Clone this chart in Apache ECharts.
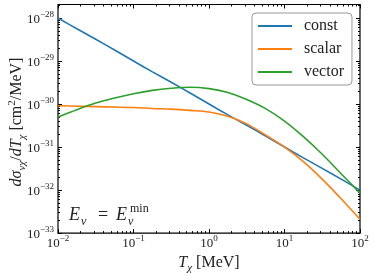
<!DOCTYPE html>
<html><head><meta charset="utf-8">
<script src="https://cdn.jsdelivr.net/npm/echarts@6/dist/echarts.min.js"></script>
<style>html,body{margin:0;padding:0;background:#fff}#c{width:374px;height:279px}</style>
</head><body><div id="c"></div>
<script>
// T_chi [MeV]
const tChi = [0.01, 0.0178, 0.0316, 0.0562, 0.1, 0.178, 0.316, 0.562, 1, 1.78, 3.16, 5.62, 10, 17.8, 31.6, 56.2, 100];
// dsigma/dT [cm^2/MeV]
const constVals  = [1e-28, 5.6e-29, 3.2e-29, 1.8e-29, 1e-29, 5.6e-30, 3.2e-30, 1.8e-30, 1e-30, 5.6e-31, 3.2e-31, 1.8e-31, 1e-31, 5.6e-32, 3.2e-32, 1.8e-32, 1e-32];
const scalarVals = [9.1e-31, 8.9e-31, 8.7e-31, 8.5e-31, 8.3e-31, 7.9e-31, 7.6e-31, 7.1e-31, 6.5e-31, 5.2e-31, 3.45e-31, 1.9e-31, 1.0e-31, 4.6e-32, 1.8e-32, 6.3e-33, 2.1e-33];
const vectorVals = [5.0e-31, 7.4e-31, 1.05e-30, 1.38e-30, 1.74e-30, 2.08e-30, 2.32e-30, 2.45e-30, 2.28e-30, 1.86e-30, 1.27e-30, 7.8e-31, 4.0e-31, 1.74e-31, 6.8e-32, 2.4e-32, 8.5e-33];
const seriesNames = ['const', 'scalar', 'vector'];
const colors = ['#1f77b4', '#ff7f0e', '#2ca02c'];
// tick exponents (log10)
const xMajorExp = [-2, -1, 0, 1, 2];
const yMajorExp = [-33, -32, -31, -30, -29, -28];
const xRange = [-2, 2];
const yRange = [-33, -27.687];

function minorTicks(lo, hi) {
  const out = [];
  for (let n = Math.floor(lo); n < hi; n++) {
    for (let k = 2; k <= 9; k++) {
      const v = n + Math.log10(k);
      if (v > lo && v < hi) out.push(v);
    }
  }
  return out;
}
const xMinor = minorTicks(xRange[0], xRange[1]);
const yMinor = minorTicks(yRange[0], yRange[1]);

const FONT = 'Liberation Serif';
const TXT = '#222';
const labelRich = {
  b: {fontSize: 13, fontFamily: FONT, color: TXT, verticalAlign: 'bottom'},
  s: {fontSize: 9, fontFamily: FONT, color: TXT, verticalAlign: 'bottom', padding: [0, 0, 7, 0]}
};
function expFmt(v) {
  const e = Math.round(v);
  return '{b|10}{s|' + (e < 0 ? '\u2212' + (-e) : e) + '}';
}

function mkX(pos, ticks, len, labels) {
  return {
    type: 'value', min: xRange[0], max: xRange[1], position: pos,
    axisLine: {show: false, onZero: false}, splitLine: {show: false},
    axisTick: {show: true, inside: true, length: len, customValues: ticks, lineStyle: {color: '#000', width: 1}},
    axisLabel: labels ? {show: true, customValues: ticks, formatter: expFmt, rich: labelRich, margin: 1} : {show: false}
  };
}
function mkY(pos, ticks, len, labels) {
  return {
    type: 'value', min: yRange[0], max: yRange[1], position: pos,
    axisLine: {show: false, onZero: false}, splitLine: {show: false},
    axisTick: {show: true, inside: true, length: len, customValues: ticks, lineStyle: {color: '#000', width: 1}},
    axisLabel: labels ? {show: true, customValues: ticks, formatter: expFmt, rich: labelRich, margin: 4} : {show: false}
  };
}

const xAxes = [mkX('bottom', xMajorExp, 4, true), mkX('bottom', xMinor, 2, false), mkX('top', xMajorExp, 4, false), mkX('top', xMinor, 2, false)];
const yAxes = [mkY('left', yMajorExp, 4, true), mkY('left', yMinor, 2, false), mkY('right', yMajorExp, 4, false), mkY('right', yMinor, 2, false)];

function nameRich(fs) {
  const ss = Math.round(fs * 0.68);
  return {
    i: {fontSize: fs, fontFamily: FONT, fontStyle: 'italic', fill: TXT, color: TXT, verticalAlign: 'bottom', padding: [0, 0, 3, 0]},
    r: {fontSize: fs, fontFamily: FONT, fill: TXT, color: TXT, verticalAlign: 'bottom', padding: [0, 0, 3, 0]},
    sub: {fontSize: ss, fontFamily: FONT, fontStyle: 'italic', fill: TXT, color: TXT, verticalAlign: 'bottom'},
    sup: {fontSize: ss, fontFamily: FONT, fill: TXT, color: TXT, verticalAlign: 'bottom', padding: [0, 0, Math.round(fs * 0.6), 0]}
  };
}
xAxes[0].name = '{i|T}{sub|\u03C7}{r| [MeV]}';
xAxes[0].nameLocation = 'middle';
xAxes[0].nameGap = 16;
xAxes[0].nameTextStyle = {rich: nameRich(16)};

const valsList = [constVals, scalarVals, vectorVals];
const series = seriesNames.map((n, i) => ({
  name: n, type: 'line', xAxisIndex: 0, yAxisIndex: 0,
  data: tChi.map((t, j) => [Math.log10(t), Math.log10(valsList[i][j])]),
  showSymbol: false, symbol: 'none', smooth: 0.35,
  lineStyle: {color: colors[i], width: 1.6}, itemStyle: {color: colors[i]},
  clip: true, z: 2 + i
}));

function t(txt, x, y, fs, italic) {
  return {type: 'text', x: x, y: y, z: 10,
    style: {text: txt, fontSize: fs, fontFamily: FONT, fontStyle: italic ? 'italic' : 'normal', fill: TXT, align: 'left', verticalAlign: 'middle'}};
}

const chart = echarts.init(document.getElementById('c'), null, {renderer: 'canvas'});
chart.setOption({
  animation: false,
  backgroundColor: '#fff',
  grid: {left: 58, right: 14, top: 4.5, bottom: 40, show: true, borderColor: '#000', borderWidth: 1.2, backgroundColor: 'transparent'},
  xAxis: xAxes,
  yAxis: yAxes,
  legend: {
    left: 252, top: 13, orient: 'vertical', icon: 'rect', itemWidth: 34, itemHeight: 2, itemGap: 7,
    padding: [5, 8, 5, 6], borderColor: '#999', borderWidth: 1, borderRadius: 4, backgroundColor: '#fff',
    textStyle: {fontFamily: FONT, fontSize: 16, color: TXT, lineHeight: 16, padding: [0, 0, 0, 7]},
    data: seriesNames
  },
  graphic: [
    {type: 'text', x: 17, y: 122, rotation: Math.PI / 2, z: 10,
      style: {text: '{i|d\u03C3}{sub|\u03BD\u03C7}{r|/}{i|dT}{sub|\u03C7}{r| [cm}{sup|2}{r|/MeV]}', rich: nameRich(16), align: 'center', verticalAlign: 'middle'}},
    t('E', 69, 215, 18, true),
    t('\u03BD', 81, 222, 12, true),
    t('=', 98, 215, 18, false),
    t('E', 116, 215, 18, true),
    t('min', 130, 209, 12, false),
    t('\u03BD', 128, 222, 12, true)
  ],
  series: series
});
</script></body></html>
